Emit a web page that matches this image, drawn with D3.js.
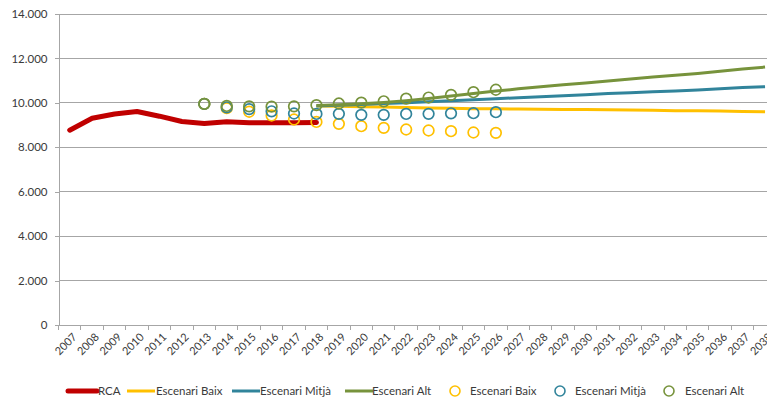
<!DOCTYPE html>
<html><head><meta charset="utf-8">
<script src="https://cdn.jsdelivr.net/npm/d3@7"></script>
<style>
body{margin:0;background:#fff;}
svg{display:block;font-family:Lato,"Open Sans",sans-serif;}
</style></head>
<body><svg id="c" width="767" height="401"></svg>
<script>
const years = d3.range(2007, 2039).map(String);
const yTicks = [0, 2000, 4000, 6000, 8000, 10000, 12000, 14000];

const rcaYears = d3.range(2007, 2019).map(String);
const rca = [8770, 9310, 9500, 9610, 9400, 9160, 9070, 9150, 9110, 9100, 9110, 9120];

const lineYears = d3.range(2018, 2039).map(String);
const baixLine = [9860, 9850, 9830, 9810, 9790, 9770, 9760, 9740, 9730, 9720, 9710, 9700, 9700, 9690, 9680, 9670, 9650, 9640, 9630, 9610, 9600];
const mitjaLine = [9860, 9890, 9930, 9970, 10010, 10050, 10090, 10140, 10190, 10230, 10270, 10320, 10370, 10420, 10460, 10500, 10530, 10580, 10640, 10690, 10730];
const altLine = [9880, 9910, 9960, 10020, 10100, 10200, 10310, 10420, 10530, 10630, 10720, 10810, 10890, 10980, 11070, 11160, 11240, 11320, 11420, 11520, 11610];

const dotYears = d3.range(2013, 2027).map(String);
const baixDots = [9950, 9760, 9600, 9430, 9250, 9140, 9055, 8950, 8875, 8800, 8755, 8725, 8665, 8650];
const mitjaDots = [9950, 9800, 9720, 9620, 9520, 9500, 9505, 9460, 9460, 9500, 9505, 9530, 9535, 9580];
const altDots = [9950, 9860, 9840, 9830, 9840, 9900, 9970, 10010, 10070, 10190, 10240, 10360, 10480, 10590];

const legendLabels = ["RCA", "Escenari Baix", "Escenari Mitjà", "Escenari Alt", "Escenari Baix", "Escenari Mitjà", "Escenari Alt"];

const C = {red:"#C00000", yellow:"#FFC000", blue:"#31849B", green:"#77933C"};
const svg = d3.select("#c");
const pLeft = 58.5, pTop = 14, pBottom = 325, step = 22.43;
const x = d3.scaleBand().domain(years).range([pLeft, pLeft + step * years.length]).padding(0);
const cx = d => x(d) + x.bandwidth() / 2;
const y = d3.scaleLinear().domain([0, 14000]).range([pBottom, pTop]);
const loc = d3.formatLocale({decimal: ",", thousands: ".", grouping: [3], currency: ["", "€"]});
const fmt = loc.format(",.0f");
const textCol = "#3a3a3a", gridCol = "#a6a6a6";

// gridlines
svg.append("g").selectAll("line").data(yTicks.filter(t => t > 0)).join("line")
  .attr("x1", pLeft).attr("x2", 767).attr("y1", d => y(d)).attr("y2", d => y(d))
  .attr("stroke", gridCol).attr("stroke-width", 1).attr("shape-rendering", "crispEdges");

// y axis
const ya = svg.append("g").attr("transform", `translate(${pLeft},0)`)
  .call(d3.axisLeft(y).tickValues(yTicks).tickFormat(fmt).tickSizeOuter(0).tickSize(4).tickPadding(7));
ya.select(".domain").attr("stroke", gridCol).attr("shape-rendering", "crispEdges");
ya.selectAll(".tick line").attr("stroke", gridCol).attr("shape-rendering", "crispEdges");
ya.selectAll("text").attr("fill", textCol).style("font-size", "11.5px").style("font-family", "Lato");

// x axis
const xa = svg.append("g").attr("transform", `translate(0,${pBottom})`);
xa.append("line").attr("x1", pLeft).attr("x2", 767).attr("stroke", gridCol).attr("shape-rendering", "crispEdges");
xa.selectAll("line.t").data(years.concat(["end"])).join("line").attr("class", "t")
  .attr("x1", (d, i) => pLeft + i * x.bandwidth()).attr("x2", (d, i) => pLeft + i * x.bandwidth())
  .attr("y1", 0).attr("y2", 5).attr("stroke", gridCol).attr("shape-rendering", "crispEdges");
xa.selectAll("text").data(years).join("text")
  .attr("transform", d => `translate(${cx(d) + 5},${10}) rotate(-45)`)
  .attr("text-anchor", "end").attr("dy", "0.35em")
  .attr("fill", textCol).style("font-size", "11px").text(d => d);

const line = d3.line().x(d => cx(d[0])).y(d => y(d[1]));
const pairs = (ks, vs) => ks.map((k, i) => [k, vs[i]]);

svg.append("path").datum(pairs(rcaYears, rca)).attr("d", line)
  .attr("fill", "none").attr("stroke", C.red).attr("stroke-width", 5).attr("stroke-linejoin", "round").attr("stroke-linecap", "round");
[[baixLine, C.yellow], [mitjaLine, C.blue], [altLine, C.green]].forEach(([vals, col]) => {
  svg.append("path").datum(pairs(lineYears, vals)).attr("d", line)
    .attr("fill", "none").attr("stroke", col).attr("stroke-width", 3).attr("stroke-linejoin", "round");
});
[[baixDots, C.yellow], [mitjaDots, C.blue], [altDots, C.green]].forEach(([vals, col]) => {
  svg.append("g").selectAll("circle").data(pairs(dotYears, vals)).join("circle")
    .attr("cx", d => cx(d[0])).attr("cy", d => y(d[1])).attr("r", 5.3)
    .attr("fill", "none").attr("stroke", col).attr("stroke-width", 1.7);
});

// legend
const legendCols = [C.red, C.yellow, C.blue, C.green, C.yellow, C.blue, C.green];
const legendX = [68, 127, 232, 345, 455, 560, 669];
const legendTX = [98, 156, 260, 372, 470, 575, 685];
const ly = 391;
const lg = svg.append("g");
legendLabels.forEach((lab, i) => {
  if (i < 4) {
    lg.append("line").attr("x1", legendX[i]).attr("x2", legendX[i] + (i === 0 ? 29 : 28)).attr("y1", ly).attr("y2", ly)
      .attr("stroke", legendCols[i]).attr("stroke-width", i === 0 ? 5 : 3).attr("stroke-linecap", i === 0 ? "round" : "butt");
  } else {
    lg.append("circle").attr("cx", legendX[i]).attr("cy", ly).attr("r", 5)
      .attr("fill", "none").attr("stroke", legendCols[i]).attr("stroke-width", 1.6);
  }
  lg.append("text").attr("x", legendTX[i]).attr("y", ly).attr("dy", "0.35em")
    .attr("fill", textCol).style("font-size", "11.5px").text(lab);
});
</script></body></html>
